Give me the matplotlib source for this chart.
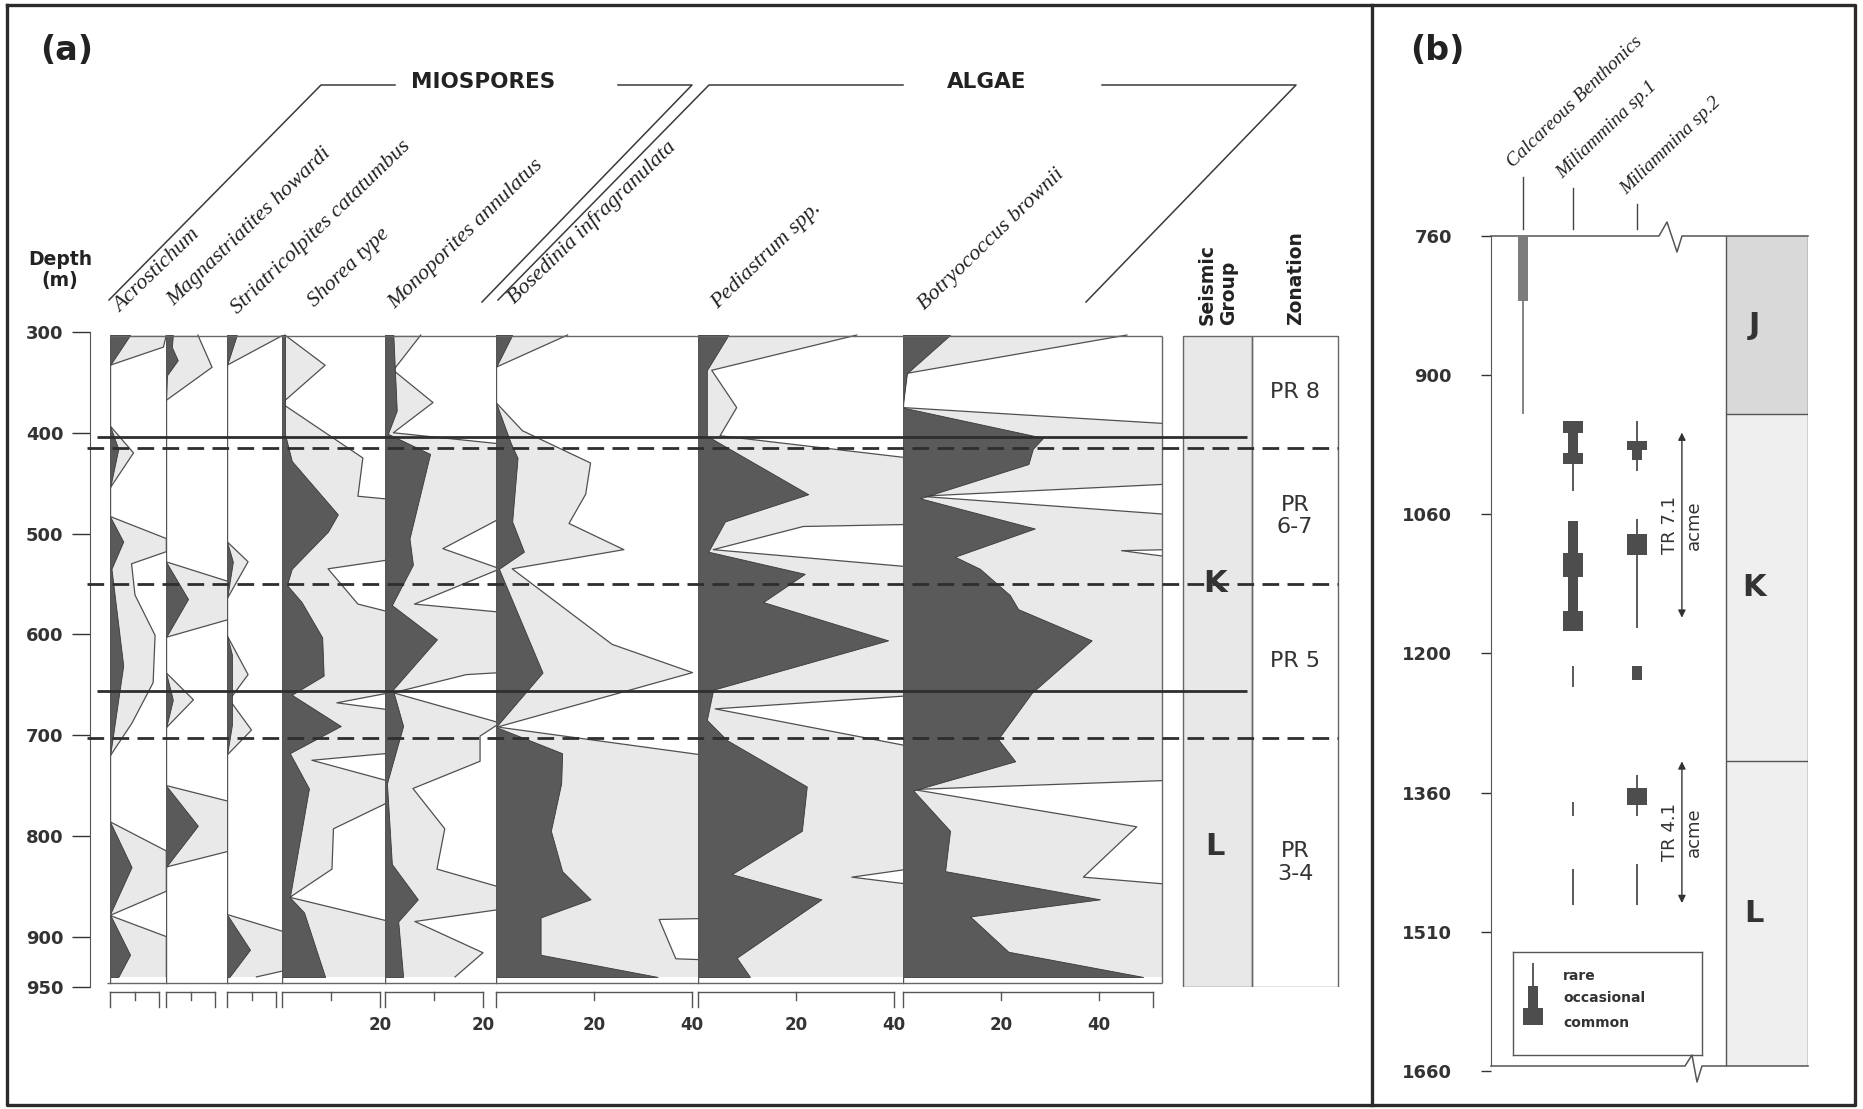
import numpy as np
import matplotlib.pyplot as plt
from matplotlib.lines import Line2D
from matplotlib.patches import Rectangle

plt.rcParams['font.family'] = ['DejaVu Sans']

W, H = 1863, 1109

# ---------------- panel (a): miospore / algae percentages ----------------
# (depth m, %) vertices; dark = counted value, light = exaggerated outline
acro_dark = [(303, 4.1), (333, 0), (393, 0), (416, 1.7), (455, 0), (483, 0), (508, 2.7), (535, 0.3),
             (631, 2.7), (721, 0), (786, 0), (831, 4.4), (878, 0), (918, 4.1), (940, 1.7)]
acro_light = [(303, 11.5), (315, 10.9), (333, 0), (393, 0), (420, 4.8), (455, 0), (483, 0), (505, 11.5),
              (518, 11.5), (530, 4.4), (561, 5.1), (601, 9.2), (648, 8.8), (688, 4.5), (721, 0), (786, 0),
              (815, 11.5), (855, 11.5), (879, 0), (900, 11.5), (940, 11.5)]

magn_dark = [(303, 1.4), (315, 1.2), (328, 2.4), (343, 0.2), (368, 0), (528, 0), (565, 4.5), (603, 0),
             (638, 0), (665, 1.4), (693, 0), (750, 0), (790, 6.5), (831, 0)]
magn_light = [(303, 6.5), (335, 9.4), (368, 0), (528, 0), (548, 13), (585, 13), (603, 0), (638, 0),
              (665, 5.6), (693, 0), (750, 0), (766, 13), (815, 13), (831, 0)]

stri_dark = [(303, 2.0), (333, 0), (508, 0), (528, 1.2), (565, 0), (601, 0), (620, 1.0), (690, 1.0),
             (720, 0), (878, 0), (913, 4.7), (940, 0.5)]
stri_light = [(303, 11.5), (333, 0), (508, 0), (528, 4.3), (565, 0), (601, 0), (640, 4.3), (665, 0.5),
              (695, 5.0), (720, 0), (878, 0), (895, 11.5), (934, 11.5), (940, 6)]

shor_dark = [(303, 0.6), (401, 0.6), (428, 2.0), (481, 11.4), (498, 9.4), (535, 2.0), (551, 1.0),
             (568, 4.0), (603, 8.2), (641, 8.5), (660, 2.0), (691, 12), (718, 1.6), (753, 5.5),
             (861, 1.6), (876, 4.5), (940, 8.8)]
shor_light = [(303, 0.6), (333, 8.8), (368, 0.6), (373, 0.6), (425, 16.5), (463, 15.5), (466, 22),
              (526, 22), (535, 9.4), (570, 15.5), (578, 22), (658, 22), (668, 11.2), (675, 22), (718, 22),
              (725, 6.1), (746, 22), (766, 22), (793, 10.5), (833, 10.2), (861, 1.6), (885, 22), (940, 22)]

mono_dark = [(303, 1.7), (378, 2.4), (401, 0.6), (421, 9.2), (505, 5), (531, 5.7), (571, 1.4),
             (605, 10.6), (655, 1.6), (691, 3.7), (748, 0.4), (828, 1.4), (863, 6.7), (885, 2.7), (940, 3.7)]
mono_light = [(303, 7.3), (338, 1.7), (370, 9.8), (400, 1.7), (411, 23.5), (485, 23.5), (515, 11.8),
              (535, 23.5), (570, 6), (578, 23.5), (638, 23.5), (640, 16.6), (658, 1.7), (688, 23.5),
              (701, 19.4), (726, 19.4), (753, 5.7), (793, 12.2), (833, 10.6), (851, 23.5), (873, 23.5),
              (885, 6.1), (916, 20), (940, 14.3)]

bose_dark = [(303, 3.3), (335, 0), (370, 0), (410, 3.0), (425, 4.4), (488, 3.3), (518, 5.7), (535, 0.6),
             (638, 9.5), (692, 0), (718, 13.5), (748, 13.3), (795, 11.2), (835, 13.5), (863, 19.3),
             (881, 9.1), (918, 9.1), (940, 33)]
bose_light = [(303, 14.6), (335, 0), (370, 0), (398, 5.4), (430, 19.3), (461, 18.3), (490, 14.9),
              (516, 26.1), (535, 3.3), (610, 23.7), (638, 40.1), (692, 0.3), (720, 42.5), (882, 42.5),
              (883, 33.3), (922, 36.7), (923, 42.5), (940, 42.5)]

pedi_dark = [(303, 6.2), (338, 1.8), (403, 1.8), (461, 22.5), (488, 5.5), (518, 2.1), (540, 21.8),
             (568, 13.3), (606, 38.8), (655, 3.1), (685, 1.8), (705, 5.9), (751, 22.2), (795, 21.2),
             (838, 6.9), (863, 25.2), (921, 7.9), (940, 10.6)]
pedi_light = [(303, 32.4), (338, 2.8), (375, 7.9), (403, 4.5), (425, 43), (491, 43), (493, 21.5),
              (516, 3.1), (533, 43), (661, 43), (674, 3.5), (711, 43), (833, 43), (841, 31.4), (848, 43),
              (940, 43)]

botr_dark = [(303, 9.6), (341, 0.8), (372, 0), (375, 0), (405, 28.6), (416, 26.5), (431, 25.6),
             (465, 3.5), (495, 26.9), (523, 10.6), (535, 15.7), (561, 21.8), (575, 23.5), (606, 38.5),
             (658, 26.3), (704, 19.4), (726, 22.9), (755, 2.1), (795, 9.6), (835, 8.6), (863, 40.2),
             (880, 13.7), (915, 21.5), (940, 49)]
botr_light = [(303, 45.7), (341, 0.8), (372, 0), (375, 0), (391, 54), (451, 54), (463, 3.5), (481, 54),
              (516, 54), (517, 44.6), (523, 54), (745, 54), (754, 2.1), (791, 47.7), (841, 36.8),
              (848, 54), (940, 54)]

col_names = ['Acrostichum', 'Magnastriatites howardi', 'Striatricolpites catatumbus', 'Shorea type',
             'Monoporites annulatus', 'Bosedinia infragranulata', 'Pediastrum spp.', 'Botryococcus brownii']
col_dark = [acro_dark, magn_dark, stri_dark, shor_dark, mono_dark, bose_dark, pedi_dark, botr_dark]
col_light = [acro_light, magn_light, stri_light, shor_light, mono_light, bose_light, pedi_light, botr_light]
scale_end = [10, 10, 10, 20, 20, 40, 40, 51]
scale_minor = [[5], [5], [5], [10], [10], [20], [20], [20, 40]]
scale_labels = [[], [], [], [20], [20], [20, 40], [20, 40], [20, 40]]

depth_ticks = [300, 400, 500, 600, 700, 800, 900, 950]
solid_lines = [404, 656]
dashed_lines = [415, 550, 703]
zone_bounds = [304, 415, 550, 703, 950]
zone_names = ['PR 8', 'PR\n6-7', 'PR 5', 'PR\n3-4']
seis_names = ['K', 'L']
seis_depths = [550, 811]

# ---------------- panel (b): foraminifera ranges ----------------
b_ticks = [760, 900, 1060, 1200, 1360, 1510, 1660]
b_species = ['Calcareous Benthonics', 'Miliammina sp.1', 'Miliammina sp.2']
# (top m, base m, abundance)  r = rare, o = occasional, c = common
calc_ranges = [(761, 825, 'o'), (825, 945, 'r')]
mil1_ranges = [(953, 966, 'c'), (966, 990, 'o'), (990, 1002, 'c'), (1002, 1033, 'r'), (1067, 1099, 'o'),
               (1099, 1123, 'c'), (1123, 1157, 'o'), (1157, 1177, 'c'), (1214, 1239, 'r'),
               (1370, 1385, 'r'), (1442, 1481, 'r')]
mil2_ranges = [(953, 976, 'r'), (976, 986, 'c'), (986, 997, 'o'), (997, 1010, 'r'), (1065, 1080, 'r'),
               (1080, 1101, 'c'), (1101, 1174, 'r'), (1214, 1231, 'o'), (1340, 1355, 'r'),
               (1355, 1373, 'c'), (1373, 1385, 'r'), (1437, 1481, 'r')]
b_groups = ['J', 'K', 'L']
b_group_bounds = [760, 945, 1324, 1655]
acme_ranges = [(966, 1164, 'TR 7.1'), (1324, 1479, 'TR 4.1')]
legend_kinds = ['r', 'o', 'c']
legend_names = ['rare', 'occasional', 'common']

# ---------------- drawing ----------------
DARK = '#5a5a5a'
LIGHT = '#e9e9e9'
INK = '#3a3a3a'

fig = plt.figure(figsize=(W / 100, H / 100), dpi=100)


def rect(x0, y0, x1, y1):
    return [x0 / W, 1 - y1 / H, (x1 - x0) / W, (y1 - y0) / H]


def fline(xs, ys, **kw):
    kw.setdefault('color', INK)
    kw.setdefault('lw', 1.1)
    fig.add_artist(Line2D([x / W for x in xs], [1 - y / H for y in ys], **kw))


def ftext(x, y, s, **kw):
    fig.text(x / W, 1 - y / H, s, **kw)


# outer frames
fline([7, 1855, 1855, 7, 7], [5, 5, 1105, 1105, 5], color='#2b2b2b', lw=2.4)
fline([1372, 1372], [5, 1105], color='#2b2b2b', lw=2.4)
ftext(40, 50, '(a)', fontsize=24, fontweight='bold', va='center', color='#222')
ftext(1410, 50, '(b)', fontsize=24, fontweight='bold', va='center', color='#222')

# ----- panel (a) columns -----
col_edges = [110, 166, 227, 282, 385, 496, 698, 903, 1162]
label_xy = [(120, 313), (174, 306), (238, 314), (315, 307), (395, 309), (515, 304), (718, 309), (925, 310)]
PX_PER_PCT = 4.9
Y300, Y950 = 332, 987


def frac(y):
    return (Y950 - y) / (Y950 - Y300)


for i, name in enumerate(col_names):
    x0, x1 = col_edges[i], col_edges[i + 1]
    ax = fig.add_axes(rect(x0, Y300, x1, Y950))
    ax.set_xlim(0, (x1 - x0) / PX_PER_PCT)
    ax.set_ylim(950, 300)
    ax.axis('off')
    d, v = zip(*col_light[i])
    ax.fill_betweenx(d, 0, v, facecolor=LIGHT, edgecolor='none', zorder=1)
    ax.plot(v, d, color='#505050', lw=0.9, zorder=2)
    d, v = zip(*col_dark[i])
    ax.fill_betweenx(d, 0, v, facecolor=DARK, edgecolor='#383838', lw=0.6, zorder=3)
    ax.plot([0, 0], [304, 946], color='#555', lw=1, zorder=4)

    # percentage scale bracket below the column
    tr = ax.get_xaxis_transform()
    yb, ys, yl, yt = frac(992), frac(1000), frac(1007), frac(1025)
    end = scale_end[i]
    kw = dict(transform=tr, clip_on=False, color='#555', lw=1)
    ax.plot([0, end], [yb, yb], **kw)
    for t in (0, end):
        ax.plot([t, t], [yb, yl], **kw)
    for t in scale_minor[i]:
        ax.plot([t, t], [yb, ys], **kw)
    for t in scale_labels[i]:
        ax.text(t, yt, str(t), transform=tr, ha='center', va='center', fontsize=12,
                fontweight='bold', color='#333')

    lx, ly = label_xy[i]
    ftext(lx, ly, name, rotation=44, rotation_mode='anchor', ha='left', va='baseline',
          family='Liberation Serif', style='italic', fontsize=16, color='#222')

# overlay: depth axis, boxes, zone lines
ax_d = fig.add_axes(rect(90, Y300, 1340, Y950))
ax_d.set_xlim(90, 1340)
ax_d.set_ylim(950, 300)
ax_d.patch.set_visible(False)
for s in ['top', 'right', 'bottom']:
    ax_d.spines[s].set_visible(False)
ax_d.spines['left'].set_color('#555')
ax_d.set_xticks([])
ax_d.set_yticks(depth_ticks)
ax_d.tick_params(axis='y', direction='out', length=13, width=1, pad=6, labelsize=13, colors='#333')
for lab in ax_d.get_yticklabels():
    lab.set_fontweight('bold')

ax_d.hlines(304, 110, 1162, colors='#666', lw=1)
ax_d.hlines(946, 107, 1162, colors='#666', lw=1)
ax_d.vlines(1162, 304, 946, colors='#666', lw=1)
ax_d.add_patch(Rectangle((1183, 304), 69, 646, facecolor='#e8e8e8', edgecolor='#666', lw=1, zorder=1))
ax_d.add_patch(Rectangle((1252, 304), 86, 646, facecolor='none', edgecolor='#666', lw=1, zorder=1))

ax_d.hlines(solid_lines, 97, 1247, colors='#2e2e2e', lw=2, zorder=5, clip_on=False)
ax_d.hlines(dashed_lines, 87, 1338, colors='#2e2e2e', lw=2, linestyles=(0, (6, 3)), zorder=5,
            clip_on=False)

for j, name in enumerate(zone_names):
    mid = (zone_bounds[j] + zone_bounds[j + 1]) / 2
    ax_d.text(1295, mid, name, ha='center', va='center', fontsize=16, color='#333', linespacing=1.15)
for name, dpt in zip(seis_names, seis_depths):
    ax_d.text(1215, dpt, name, ha='center', va='center', fontsize=22, fontweight='bold', color='#333',
              zorder=6)

# headers of panel (a)
ftext(60, 270, 'Depth\n(m)', ha='center', va='center', fontsize=13.5, fontweight='bold',
      linespacing=1.1, color='#222')
ftext(483, 82, 'MIOSPORES', ha='center', va='center', fontsize=15.5, fontweight='bold', color='#222')
ftext(987, 82, 'ALGAE', ha='center', va='center', fontsize=15.5, fontweight='bold', color='#222')
fline([109, 321, 395], [300, 85, 85])
fline([618, 692, 482], [85, 85, 302])
fline([498, 709, 903], [300, 85, 85])
fline([1102, 1296, 1086], [85, 85, 302])
ftext(1218, 325, 'Seismic\nGroup', rotation=90, ha='center', va='bottom', multialignment='left',
      fontsize=13.5, fontweight='bold', color='#222')
ftext(1296, 325, 'Zonation', rotation=90, ha='center', va='bottom', fontsize=13.5,
      fontweight='bold', color='#222')

# ----- panel (b) -----
B_X0, B_X1 = 1491, 1808
B_UNIT = 46.0
b_xpos = [0.7, 1.78, 3.17]
b_colors = ['#7c7c7c', '#4d4d4d', '#4d4d4d']
b_label_top = [177, 188, 204]
kind_lw = {'r': 1.3, 'o': 7.2, 'c': 14.4}
b_idx = np.arange(len(b_ticks))


def fwd(d):
    return np.interp(d, b_ticks, b_idx)


def inv(i):
    return np.interp(i, b_idx, b_ticks)


ax_b = fig.add_axes(rect(B_X0, 236, B_X1, 1071))
ax_b.set_yscale('function', functions=(fwd, inv))
ax_b.set_ylim(1660, 760)
ax_b.set_xlim(0, (B_X1 - B_X0) / B_UNIT)
ax_b.patch.set_visible(False)
for s in ['top', 'right', 'bottom']:
    ax_b.spines[s].set_visible(False)
ax_b.spines['left'].set_bounds(760, 1655)
ax_b.spines['left'].set_color('#555')
ax_b.set_xticks([])
ax_b.set_yticks(b_ticks, labels=[str(t) for t in b_ticks])
ax_b.tick_params(axis='y', direction='out', length=7.2, width=1, pad=21, labelsize=13, colors='#333')
for lab in ax_b.get_yticklabels():
    lab.set_fontweight('bold')

for x, ranges, colr in zip(b_xpos, [calc_ranges, mil1_ranges, mil2_ranges], b_colors):
    for top, bot, k in ranges:
        ax_b.vlines(x, top, bot, colors=colr, lw=kind_lw[k], capstyle='butt')

gx0, gx1 = (1726 - B_X0) / B_UNIT, (B_X1 - B_X0) / B_UNIT
group_fill = ['#d9d9d9', '#efefef', '#efefef']
for j, g in enumerate(b_groups):
    top, bot = b_group_bounds[j], b_group_bounds[j + 1]
    ax_b.fill_betweenx([top, bot], gx0, gx1, color=group_fill[j], lw=0, zorder=0)
    ax_b.text(5.72, inv((fwd(top) + fwd(bot)) / 2), g, ha='center', va='center', fontsize=22,
              fontweight='bold', color='#333')
ax_b.hlines(b_group_bounds[1:-1], gx0, gx1, colors='#555', lw=1)
ax_b.vlines([gx0, gx1], 760, 1655, colors='#555', lw=1)

for top, bot, lab in acme_ranges:
    ax_b.annotate('', xy=(4.15, top), xytext=(4.15, bot),
                  arrowprops=dict(arrowstyle='<|-|>', color='#333', lw=1, mutation_scale=11,
                                  shrinkA=0, shrinkB=0))
    mid = inv((fwd(top) + fwd(bot)) / 2)
    ax_b.text(3.89, mid, lab, rotation=90, ha='center', va='center', fontsize=13, color='#333')
    ax_b.text(4.41, mid, 'acme', rotation=90, ha='center', va='center', fontsize=13, color='#333')

for x, name, ytop in zip(b_xpos, b_species, b_label_top):
    px = B_X0 + x * B_UNIT
    fline([px, px], [ytop, 229], color='#444', lw=1)
    ftext(px - 10, ytop - 9, name, rotation=44, rotation_mode='anchor', ha='left', va='baseline',
          family='Liberation Serif', style='italic', fontsize=14, color='#222')

# box outline with break symbols
fline([1491, 1659, 1667, 1677, 1682, 1808], [236, 236, 222, 252, 236, 236], color='#555', lw=1.1)
fline([1491, 1685, 1692, 1697, 1702, 1808], [1066, 1066, 1055, 1082, 1066, 1066], color='#555', lw=1.1)

# legend
ax_l = fig.add_axes(rect(1513, 952, 1702, 1055))
ax_l.set_xlim(0, 189)
ax_l.set_ylim(103, 0)
ax_l.set_xticks([])
ax_l.set_yticks([])
for s in ax_l.spines.values():
    s.set_color('#555')
    s.set_linewidth(1)
leg_spans = [(11, 34), (34, 56), (56, 73)]
leg_text_y = [24, 46, 71]
for k, (a, b), name, ty in zip(legend_kinds, leg_spans, legend_names, leg_text_y):
    ax_l.vlines(20, a, b, colors='#4d4d4d', lw=kind_lw[k], capstyle='butt')
    ax_l.text(50, ty, name, fontsize=10, fontweight='bold', va='center', color='#333')

fig.savefig('out.png', dpi=100, facecolor='white')
